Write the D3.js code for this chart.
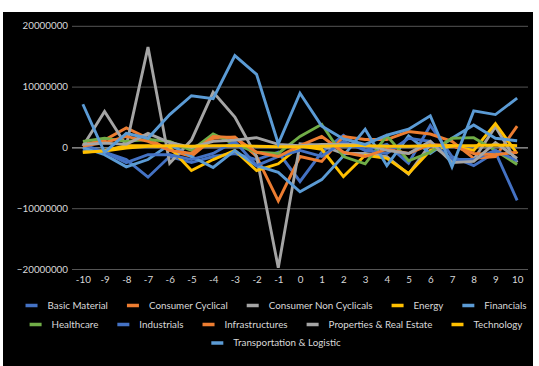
<!DOCTYPE html>
<html>
<head>
<meta charset="utf-8">
<script src="https://cdn.jsdelivr.net/npm/d3@7"></script>
<style>
  html, body { margin: 0; padding: 0; background: #ffffff; }
  svg { display: block; }
  text { font-family: Lato, "Liberation Sans", sans-serif; }
</style>
</head>
<body>
<svg id="chart" width="539" height="366"></svg>
<script>
// Quarter offsets relative to the event (x axis categories)
const categories = d3.range(-10, 11);

// Y axis tick values
const yTicks = [-20000000, -10000000, 0, 10000000, 20000000];

// Series names in legend order
const seriesNames = [
  "Basic Material", "Consumer Cyclical", "Consumer Non Cyclicals", "Energy", "Financials",
  "Healthcare", "Industrials", "Infrastructures", "Properties & Real Estate", "Technology",
  "Transportation & Logistic"
];

// Values per sector, one per category (-10 ... 10)
const basicMaterial = [-300000, -800000, -2000000, -4900000, -1500000, -2500000, -1500000, -1000000, -2000000, -800000, -5600000, -800000, 2000000, -500000, 500000, -2600000, 3600000, -1500000, -3000000, -800000, -8700000];
const consumerCyclical = [500000, 1200000, 3200000, 1500000, -500000, -1500000, 1500000, 1700000, -1500000, -8800000, -1500000, -2300000, 1800000, 1300000, 1300000, 2600000, 2200000, 1000000, -1800000, -1500000, 3500000];
const consumerNonCyclicals = [200000, 5900000, 300000, 16500000, -2600000, 1200000, 9100000, 5000000, -1500000, -19800000, 600000, 300000, -1000000, -1000000, -1500000, -4400000, 500000, -2000000, -2000000, 3400000, -2500000];
const energy = [-800000, -500000, 300000, 300000, 0, -3800000, -2000000, -500000, -3800000, -2700000, 200000, -300000, -4800000, -1300000, -1800000, -4300000, -500000, 200000, -500000, 3900000, -1000000];
const financials = [0, -1200000, -3200000, -2000000, 500000, -1500000, -3300000, -500000, -3000000, -4100000, -7300000, -5300000, -1400000, 3000000, -3000000, 1900000, -1000000, 1500000, 3700000, 1500000, 1100000];
const healthcare = [1000000, 1500000, 1000000, 1300000, 1000000, -500000, 2200000, 500000, -800000, -1000000, 1800000, 3800000, -1500000, -2700000, 1900000, -2200000, -800000, 1500000, 1600000, -500000, -2800000];
const industrials = [500000, -800000, -2500000, -1200000, -1200000, -2000000, -1000000, 1000000, -3000000, -1500000, -500000, -1500000, 1000000, -500000, -1000000, 1500000, 1000000, -2000000, -2000000, -500000, -2200000];
const infrastructures = [200000, 800000, 1800000, 1000000, -500000, -1000000, 1800000, 1600000, -800000, -1500000, 300000, 1800000, -800000, -1500000, -300000, -1000000, 500000, 300000, -1000000, -1200000, -800000];
const propertiesRealEstate = [500000, 700000, 500000, 2300000, 800000, 0, 1000000, 1200000, 1600000, 500000, 300000, 500000, 500000, 500000, -500000, -1000000, 1000000, -2500000, -2300000, 800000, -1800000];
const technology = [-800000, -600000, -100000, 200000, 300000, 200000, 300000, 300000, 200000, 100000, 100000, 200000, 300000, 300000, 200000, 200000, 300000, 300000, 300000, 400000, 300000];
const transportationLogistic = [7100000, -800000, 2300000, 1500000, 5400000, 8500000, 8000000, 15100000, 12000000, 600000, 8900000, 3500000, 1400000, 500000, 2000000, 3000000, 5200000, -3200000, 6000000, 5400000, 8100000];

const seriesValues = [
  basicMaterial, consumerCyclical, consumerNonCyclicals, energy, financials,
  healthcare, industrials, infrastructures, propertiesRealEstate, technology,
  transportationLogistic
];

// Office-style palette, repeating after six entries
const palette = ["#4472C4", "#ED7D31", "#A5A5A5", "#FFC000", "#5B9BD5", "#70AD47"];

// Legend rows (indices into seriesNames)
const legendRows = [[0, 1, 2, 3, 4], [5, 6, 7, 8, 9], [10]];

const svg = d3.select("#chart");
const W = 539, H = 366;

// Dark chart area
svg.append("rect")
  .attr("x", 3).attr("y", 12)
  .attr("width", 530).attr("height", H - 12)
  .attr("fill", "#000000");

const plot = { left: 72, right: 528, top: 25.8, bottom: 269 };

const x = d3.scalePoint()
  .domain(categories)
  .range([plot.left, plot.right])
  .padding(0.5);

const y = d3.scaleLinear()
  .domain([-20000000, 20000000])
  .range([plot.bottom, plot.top]);

// Horizontal gridlines and value labels
const yAxis = svg.append("g")
  .attr("transform", `translate(${plot.left},0)`)
  .call(d3.axisLeft(y)
    .tickValues(yTicks)
    .tickSize(-(plot.right - plot.left))
    .tickPadding(4)
    .tickFormat(d3.format("d")));
yAxis.select(".domain").remove();
yAxis.selectAll(".tick line")
  .attr("stroke", d => d === 0 ? "#d0d0d0" : "#555555")
  .attr("stroke-width", 1);
yAxis.selectAll(".tick text")
  .attr("fill", "#d9d9d9")
  .style("font-size", "9.8px")
  .style("font-family", "Lato, 'Liberation Sans', sans-serif");

// Category labels below the plot
const xAxis = svg.append("g")
  .attr("transform", `translate(0,${plot.bottom})`)
  .call(d3.axisBottom(x).tickSize(0).tickPadding(7));
xAxis.select(".domain").remove();
xAxis.selectAll(".tick text")
  .attr("fill", "#d9d9d9")
  .style("font-size", "9.8px")
  .style("font-family", "Lato, 'Liberation Sans', sans-serif");

// Series lines
const line = d3.line()
  .x((d, i) => x(categories[i]))
  .y(d => y(d));

svg.append("g")
  .selectAll("path")
  .data(seriesValues)
  .join("path")
  .attr("d", d => line(d))
  .attr("fill", "none")
  .attr("stroke", (d, i) => palette[i % palette.length])
  .attr("stroke-width", 2.9)
  .attr("stroke-linejoin", "miter")
  .attr("stroke-linecap", "butt");

// Legend, each row centred
const legendCenter = 276;
const rowY = [305.5, 324.5, 343];
const swatchW = 12, swatchGap = 10, itemGap = 19;
const legend = svg.append("g");

legendRows.forEach((row, r) => {
  const g = legend.append("g");
  let cursor = 0;
  row.forEach(idx => {
    const item = g.append("g").attr("transform", `translate(${cursor},0)`);
    item.append("rect")
      .attr("x", 0).attr("y", rowY[r] - 1.75)
      .attr("width", swatchW).attr("height", 3.5)
      .attr("fill", palette[idx % palette.length]);
    const t = item.append("text")
      .attr("x", swatchW + swatchGap)
      .attr("y", rowY[r])
      .attr("dy", "0.35em")
      .attr("fill", "#d9d9d9")
      .style("font-size", "9.8px")
      .text(seriesNames[idx]);
    cursor += swatchW + swatchGap + t.node().getComputedTextLength() + itemGap;
  });
  const rowWidth = cursor - itemGap;
  g.attr("transform", `translate(${legendCenter - rowWidth / 2},0)`);
});
</script>
</body>
</html>
